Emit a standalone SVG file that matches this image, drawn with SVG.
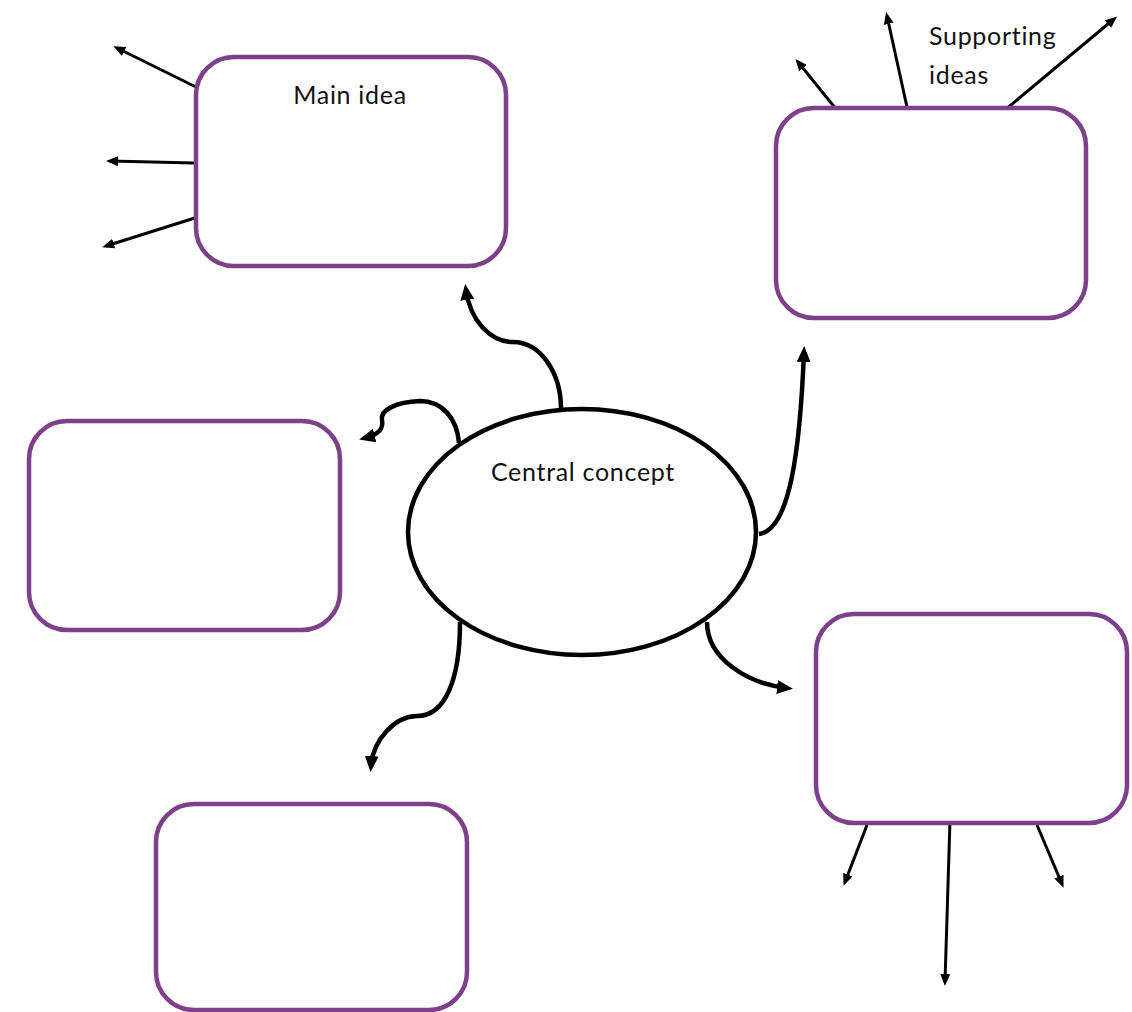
<svg xmlns="http://www.w3.org/2000/svg" width="1132" height="1012" viewBox="0 0 1132 1012">
<style>
.box{fill:#fff;stroke:#7e3f8b;stroke-width:4.5}
.ell{fill:#fff;stroke:#000;stroke-width:4.5}
.thin{fill:none;stroke:#000;stroke-width:3;marker-end:url(#ah)}
.thick{fill:none;stroke:#000;stroke-width:4.5;marker-end:url(#ahb)}
.lbl{font-family:Lato,"Liberation Sans",sans-serif;font-size:25px;letter-spacing:0.7px;fill:#111}
</style>
<defs>
<marker id="ah" viewBox="0 0 12 10" refX="8" refY="5" markerWidth="12" markerHeight="10" markerUnits="userSpaceOnUse" orient="auto"><path d="M0,0 L12,5 L0,10 z" fill="#000"/></marker>
<marker id="ahb" viewBox="0 0 16 14" refX="10" refY="7" markerWidth="16" markerHeight="14" markerUnits="userSpaceOnUse" orient="auto"><path d="M0,0 L16,7 L0,14 z" fill="#000"/></marker>
</defs>
<rect width="1132" height="1012" fill="#fff"/>
<g id="connectors">
<line class="thin" x1="196" y1="87" x2="117" y2="48"/>
<line class="thin" x1="194" y1="163" x2="110" y2="161"/>
<line class="thin" x1="198" y1="217" x2="106" y2="246"/>
<line class="thin" x1="836" y1="109" x2="798" y2="62"/>
<line class="thin" x1="907" y1="107" x2="887" y2="16"/>
<line class="thin" x1="1005" y1="110" x2="1114" y2="19"/>
<line class="thin" x1="867" y1="825" x2="845" y2="882"/>
<line class="thin" x1="950" y1="820" x2="945" y2="982"/>
<line class="thin" x1="1037" y1="825" x2="1062" y2="884"/>
<path class="thick" d="M561,409 C561,372 540,342 513,342 C490,342 470,320 466,290"/>
<path class="thick" d="M459,443 C457,418 442,401 420,401 C396,402 380,410 382,420 C384,430 377,435 365,438"/>
<path class="thick" d="M759,534 C790,530 800,450 804,352"/>
<path class="thick" d="M460,622 C460,680 445,716 417,716 C395,716 373,740 371,766"/>
<path class="thick" d="M707,622 C707,660 750,684 787,688"/>
</g>
<g id="central"><ellipse class="ell" cx="582" cy="532" rx="174" ry="123"/><text class="lbl" x="583" y="481" text-anchor="middle">Central concept</text></g>
<g id="main-idea"><rect class="box" x="196" y="57" width="310" height="209" rx="38"/><text class="lbl" x="350" y="104" text-anchor="middle">Main idea</text></g>
<g id="box-top-right"><rect class="box" x="776" y="108" width="310" height="210" rx="38"/></g>
<g id="box-left"><rect class="box" x="29" y="421" width="311" height="209" rx="38"/></g>
<g id="box-right"><rect class="box" x="816" y="614" width="311" height="209" rx="38"/></g>
<g id="box-bottom"><rect class="box" x="156" y="804" width="311" height="206" rx="38"/></g>
<g id="supporting"><text class="lbl" x="929" y="45">Supporting</text><text class="lbl" x="929" y="84">ideas</text></g>
</svg>
